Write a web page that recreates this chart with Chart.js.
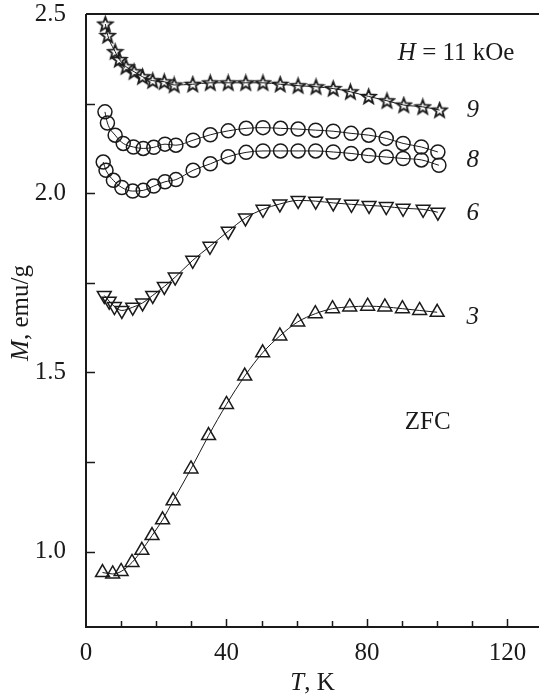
<!DOCTYPE html>
<html><head><meta charset="utf-8">
<script src="https://cdn.jsdelivr.net/npm/chart.js@4/dist/chart.umd.min.js"></script>
<style>html,body{margin:0;padding:0;background:#fff;}#wrap{width:539px;height:696px;}</style>
</head><body><div id="wrap"><canvas id="c" width="539" height="696"></canvas></div>
<script>
// Temperature (K) and magnetization (emu/g) for each sample curve
const T9 = [5.5,6.2,8.3,9.5,11.4,13.7,16.1,19.0,22.3,25.1,30.4,35.4,40.5,45.5,50.4,55.3,60.4,65.5,70.4,75.3,80.5,85.7,90.5,95.9,100.7];
const M9 = [2.472,2.440,2.395,2.373,2.353,2.339,2.325,2.314,2.311,2.302,2.304,2.308,2.308,2.308,2.308,2.304,2.300,2.297,2.292,2.283,2.270,2.258,2.246,2.241,2.232];

const T8a = [5.4,6.1,8.3,10.6,13.5,16.3,19.3,22.5,25.6,30.5,35.4,40.5,45.6,50.4,55.4,60.4,65.4,70.4,75.5,80.5,85.5,90.3,95.5,100.2];
const M8a = [2.227,2.196,2.162,2.139,2.129,2.125,2.128,2.137,2.134,2.148,2.163,2.174,2.181,2.183,2.181,2.179,2.176,2.173,2.167,2.162,2.153,2.139,2.129,2.115];

const T8b = [4.9,5.7,7.8,10.2,13.3,16.3,19.3,22.5,25.6,30.5,35.4,40.5,45.6,50.4,55.4,60.4,65.4,70.4,75.5,80.5,85.5,90.3,95.5,100.5];
const M8b = [2.087,2.064,2.036,2.016,2.006,2.008,2.020,2.032,2.038,2.064,2.082,2.102,2.114,2.118,2.118,2.118,2.118,2.115,2.111,2.105,2.101,2.097,2.093,2.078];

const T6 = [5.2,6.6,8.1,10.2,13.3,16.1,19.0,22.3,25.4,30.4,35.3,40.5,45.4,50.4,55.2,60.4,65.4,70.4,75.6,80.6,85.5,90.3,96.0,100.2];
const M6 = [1.715,1.699,1.684,1.673,1.682,1.694,1.715,1.740,1.766,1.813,1.852,1.894,1.931,1.955,1.970,1.980,1.978,1.973,1.969,1.966,1.963,1.958,1.955,1.947];

const T3 = [4.7,7.6,10.0,13.1,15.9,18.8,21.8,24.8,29.9,34.9,40.0,45.2,50.3,55.2,60.3,65.3,70.2,75.1,80.2,85.1,90.1,95.0,100.0];
const M3 = [0.942,0.938,0.945,0.970,1.004,1.045,1.089,1.142,1.231,1.324,1.411,1.490,1.555,1.602,1.641,1.664,1.678,1.683,1.685,1.683,1.678,1.673,1.668];

const xTicks = [0,10,20,30,40,50,60,70,80,90,100,110,120];
const xLabels = [0,40,80,120];
const yTicks = [1.0,1.25,1.5,1.75,2.0,2.25,2.5];
const yLabels = [1.0,1.5,2.0,2.5];

const curveLabels = [
  {text:'9', x:110.1, y:2.232},
  {text:'8', x:110.1, y:2.092},
  {text:'6', x:110.1, y:1.944},
  {text:'3', x:110.1, y:1.654}
];

const INK = '#1a1a1a';
const SERIF = "'Liberation Serif', 'Times New Roman', serif";

function starImage(r){
  const s = Math.ceil(r*2+4);
  const cv = document.createElement('canvas');
  cv.width = s; cv.height = s;
  const g = cv.getContext('2d');
  const cx = s/2, cy = s/2 + 0.5, ri = r*0.42;
  g.beginPath();
  for(let i=0;i<10;i++){
    const a = -Math.PI/2 + i*Math.PI/5;
    const rr = i%2===0 ? r : ri;
    const px = cx + rr*Math.cos(a), py = cy + rr*Math.sin(a);
    if(i===0) g.moveTo(px,py); else g.lineTo(px,py);
  }
  g.closePath();
  g.lineWidth = 1.8;
  g.lineJoin = 'miter';
  g.strokeStyle = INK;
  g.stroke();
  return cv;
}
const STAR = starImage(7.5);

function pts(T,M){ return T.map((t,i)=>({x:t,y:M[i]})); }

function ds(T,M,style,extra){
  return Object.assign({
    data: pts(T,M),
    showLine: true,
    borderColor: INK,
    borderWidth: 1,
    cubicInterpolationMode: 'monotone',
    pointStyle: style,
    pointBackgroundColor: 'rgba(0,0,0,0)',
    pointBorderColor: INK,
    pointBorderWidth: 1.5,
    pointRadius: 7
  }, extra||{});
}

const framePlugin = {
  id:'frame',
  afterDraw(chart){
    const {ctx, chartArea:a, scales:{x,y}} = chart;
    ctx.save();
    ctx.strokeStyle = INK;
    ctx.lineWidth = 2;
    ctx.beginPath();
    ctx.moveTo(a.left, a.top); ctx.lineTo(a.right+2, a.top);
    ctx.moveTo(a.left, a.top); ctx.lineTo(a.left, a.bottom);
    ctx.moveTo(a.left-1, a.bottom); ctx.lineTo(a.right+2, a.bottom);
    ctx.stroke();
    ctx.lineWidth = 1.5;
    ctx.beginPath();
    x.ticks.forEach(t=>{
      const px = Math.round(x.getPixelForValue(t.value))+0.5;
      if (t.value === 0) return;
      const len = xLabels.includes(t.value) ? 8 : 6;
      ctx.moveTo(px, a.bottom); ctx.lineTo(px, a.bottom-len);
    });
    y.ticks.forEach(t=>{
      const py = Math.round(y.getPixelForValue(t.value))+0.5;
      if (t.value === 2.5) return;
      ctx.moveTo(a.left, py); ctx.lineTo(a.left+9, py);
    });
    ctx.stroke();
    ctx.fillStyle = INK;
    ctx.textBaseline = 'middle';
    ctx.textAlign = 'center';
    ctx.font = 'italic 25px ' + SERIF;
    curveLabels.forEach(l=>{
      ctx.fillText(l.text, x.getPixelForValue(l.x), y.getPixelForValue(l.y));
    });
    ctx.textAlign = 'left';
    let hx = x.getPixelForValue(88.8), hy = y.getPixelForValue(2.391);
    ctx.font = 'italic 25px ' + SERIF;
    ctx.fillText('H', hx, hy);
    hx += ctx.measureText('H').width;
    ctx.font = '25px ' + SERIF;
    ctx.fillText(' = 11 kOe', hx, hy);
    ctx.textAlign = 'center';
    ctx.fillText('ZFC', x.getPixelForValue(97.3), y.getPixelForValue(1.36));
    ctx.restore();
  }
};

const titlePlugin = {
  id:'titles',
  afterDraw(chart){
    const {ctx, chartArea:a} = chart;
    ctx.save();
    ctx.fillStyle = INK;
    ctx.textBaseline = 'middle';
    const parts = [['T','italic '],[', K','']];
    let w = 0;
    parts.forEach(p=>{ctx.font = p[1]+'25px '+SERIF; w += ctx.measureText(p[0]).width;});
    let sx = (a.left + a.right)/2 - w/2;
    ctx.textAlign = 'left';
    parts.forEach(p=>{ctx.font = p[1]+'25px '+SERIF; ctx.fillText(p[0], sx, 683); sx += ctx.measureText(p[0]).width;});
    const yparts = [['M','italic '],[', emu/g','']];
    w = 0;
    yparts.forEach(p=>{ctx.font = p[1]+'25px '+SERIF; w += ctx.measureText(p[0]).width;});
    ctx.translate(21, 313);
    ctx.rotate(-Math.PI/2);
    sx = -w/2;
    yparts.forEach(p=>{ctx.font = p[1]+'25px '+SERIF; ctx.fillText(p[0], sx, 0); sx += ctx.measureText(p[0]).width;});
    ctx.restore();
  }
};

new Chart(document.getElementById('c'), {
  type: 'scatter',
  data: {
    datasets: [
      ds(T9, M9, STAR),
      ds(T8a, M8a, 'circle'),
      ds(T8b, M8b, 'circle'),
      ds(T6, M6, 'triangle', {pointRotation:180, pointRadius:8}),
      ds(T3, M3, 'triangle', {pointRadius:8})
    ]
  },
  options: {
    responsive: false,
    devicePixelRatio: 1,
    animation: false,
    events: [],
    layout: { autoPadding: false, padding: {top:0, right:0, left:0, bottom:0} },
    plugins: { legend:{display:false}, tooltip:{enabled:false} },
    scales: {
      x: {
        type:'linear', min:0, max:129,
        grid:{display:false}, border:{display:false},
        afterBuildTicks(s){ s.ticks = xTicks.map(v=>({value:v})); },
        afterFit(s){ s.height = 69; s.paddingLeft = 0; s.paddingRight = 0; },
        ticks:{
          autoSkip:false, maxRotation:0, padding:3, color:INK,
          font:{family:SERIF, size:25},
          callback:(v)=> xLabels.includes(v) ? String(v) : ''
        }
      },
      y: {
        type:'linear', min:0.79, max:2.5,
        grid:{display:false}, border:{display:false},
        afterBuildTicks(s){ s.ticks = yTicks.map(v=>({value:v})); },
        afterFit(s){ s.width = 86; s.paddingTop = 14; s.paddingBottom = 0; },
        ticks:{
          autoSkip:false, padding:12, color:INK,
          font:{family:SERIF, size:25, lineHeight:1.12},
          callback:(v)=> yLabels.some(l=>Math.abs(l-v)<1e-6) ? v.toFixed(1) : ''
        }
      }
    }
  },
  plugins: [framePlugin, titlePlugin]
});
</script></body></html>
